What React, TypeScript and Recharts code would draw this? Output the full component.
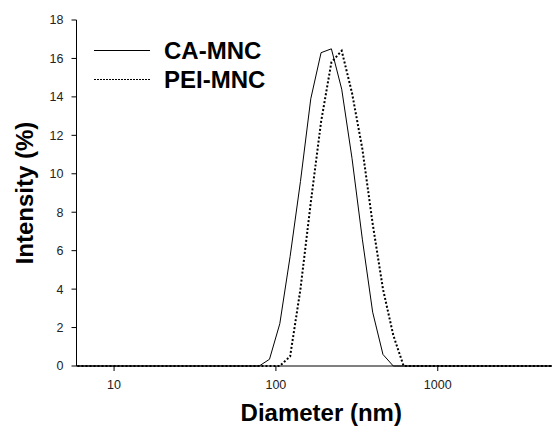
import React from 'react';
import { LineChart, Line, XAxis, YAxis, Legend } from 'recharts';

// Malvern-style size bins (nm)
const diameters = [
  5.615, 6.503, 7.531, 8.721, 10.1, 11.7, 13.54, 15.69, 18.17, 21.04, 24.36, 28.21,
  32.67, 37.84, 43.82, 50.75, 58.77, 68.06, 78.82, 91.28, 105.7, 122.4, 141.8, 164.2,
  190.1, 220.2, 255.0, 295.3, 342.0, 396.1, 458.7, 531.2, 615.1, 712.4, 825.0, 955.4,
  1106, 1281, 1484, 1718, 1990, 2305, 2669, 3091, 3580, 4145, 4801, 5560,
];

const caMnc = [
  0, 0, 0, 0, 0, 0, 0, 0, 0, 0, 0, 0,
  0, 0, 0, 0, 0, 0, 0, 0.35, 2.2, 5.7, 9.6, 13.9,
  16.3, 16.5, 14.4, 10.8, 6.6, 2.8, 0.6, 0, 0, 0, 0, 0,
  0, 0, 0, 0, 0, 0, 0, 0, 0, 0, 0, 0,
];

const peiMnc = [
  0, 0, 0, 0, 0, 0, 0, 0, 0, 0, 0, 0,
  0, 0, 0, 0, 0, 0, 0, 0, 0, 0.5, 4.0, 8.5,
  12.7, 15.8, 16.4, 14.2, 11.3, 7.4, 4.0, 1.6, 0, 0, 0, 0,
  0, 0, 0, 0, 0, 0, 0, 0, 0, 0, 0, 0,
];

const xTicks = [10, 100, 1000];
const yTicks = [0, 2, 4, 6, 8, 10, 12, 14, 16, 18];
const seriesNames = ['CA-MNC', 'PEI-MNC'];

const data = diameters.map((d, i) => ({ d, ca: caMnc[i], pei: peiMnc[i] }));

const FONT = '"Liberation Sans", Arial, sans-serif';

const LegendContent = (props: any) => {
  const payload = props.payload || [];
  return (
    <svg width={300} height={100} style={{ overflow: 'visible', display: 'block' }}>
      {payload.map((p: any, i: number) => {
        const y = 50.5 + i * 29;
        return (
          <g key={i}>
            <line
              x1={94}
              x2={150}
              y1={y}
              y2={y}
              stroke="#000"
              strokeWidth={1}
              strokeDasharray={i === 1 ? '2 1' : undefined}
            />
            <text x={164} y={y + 8.5} fontFamily={FONT} fontWeight="bold" fontSize={24} fill="#000">
              {p.value}
            </text>
          </g>
        );
      })}
    </svg>
  );
};

export default function App() {
  return (
    <div style={{ position: 'absolute', left: 0, top: 0, width: 552, height: 429, background: '#fff' }}>
      <LineChart width={552} height={429} data={data} margin={{ top: 20, right: 0, left: 0, bottom: 0 }}>
        <XAxis
          dataKey="d"
          type="number"
          scale="log"
          domain={[5.86, 5080]}
          allowDataOverflow
          ticks={xTicks}
          height={63}
          tickSize={5}
          tickMargin={9}
          stroke="#000"
          tick={{ fill: '#222', fontSize: 12.5, fontFamily: FONT }}
          label={{
            content: (p: any) => {
              const vb = p.viewBox;
              return (
                <text
                  x={vb.x + vb.width / 2 + 7}
                  y={vb.y + 55}
                  textAnchor="middle"
                  fontFamily={FONT}
                  fontWeight="bold"
                  fontSize={24}
                  fill="#000"
                >
                  Diameter (nm)
                </text>
              );
            },
          }}
        />
        <XAxis
          xAxisId="top"
          dataKey="d"
          type="number"
          scale="log"
          domain={[5.86, 5080]}
          allowDataOverflow
          orientation="top"
          height={0}
          tick={false}
          tickLine={false}
          stroke="#000"
        />
        <YAxis
          type="number"
          domain={[0, 18]}
          ticks={yTicks}
          width={76.5}
          tickSize={5}
          tickMargin={8}
          stroke="#000"
          tick={{ fill: '#222', fontSize: 12.5, fontFamily: FONT }}
          label={{
            content: (p: any) => {
              const vb = p.viewBox;
              const cx = 33;
              const cy = vb.y + vb.height / 2;
              return (
                <text
                  x={cx}
                  y={cy}
                  transform={`rotate(-90 ${cx} ${cy})`}
                  textAnchor="middle"
                  fontFamily={FONT}
                  fontWeight="bold"
                  fontSize={24}
                  fill="#000"
                >
                  Intensity (%)
                </text>
              );
            },
          }}
        />
        <Legend
          layout="horizontal"
          verticalAlign="middle"
          content={<LegendContent />}
          wrapperStyle={{ position: 'absolute', left: 0, top: 0, width: 300, height: 100 }}
        />
        <Line
          name={seriesNames[0]}
          dataKey="ca"
          stroke="#000"
          strokeWidth={1}
          dot={false}
          activeDot={false}
          isAnimationActive={false}
          type="linear"
        />
        <Line
          name={seriesNames[1]}
          dataKey="pei"
          stroke="#000"
          strokeWidth={2}
          strokeDasharray="2 2"
          dot={false}
          activeDot={false}
          isAnimationActive={false}
          type="linear"
        />
      </LineChart>
    </div>
  );
}
